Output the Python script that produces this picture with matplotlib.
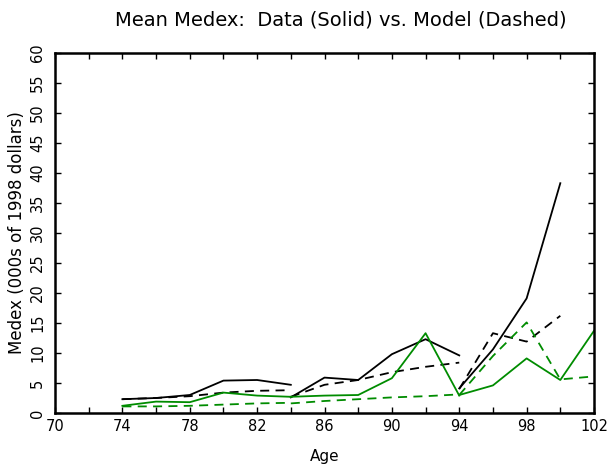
import numpy as np
import matplotlib
matplotlib.use("Agg")
import matplotlib.pyplot as plt
from matplotlib.ticker import MultipleLocator

# ages for the three cohorts (each followed over 2-year waves)
ages_c1 = [74, 76, 78, 80, 82, 84]
ages_c2 = [84, 86, 88, 90, 92, 94]
ages_c3_black = [94, 96, 98, 100]
ages_c3_green = [94, 96, 98, 100, 102]

# mean medex, 000s of 1998 dollars
black_data_c1 = [2.3, 2.5, 3.0, 5.4, 5.5, 4.7]
black_data_c2 = [2.6, 5.9, 5.5, 9.8, 12.3, 9.6]
black_data_c3 = [4.1, 10.6, 19.1, 38.3]

black_model_c1 = [2.3, 2.5, 2.8, 3.4, 3.7, 3.8]
black_model_c2 = [2.7, 4.7, 5.5, 6.8, 7.7, 8.4]
black_model_c3 = [4.0, 13.3, 11.9, 16.2]

green_data_c1 = [1.2, 1.9, 1.8, 3.4, 2.9, 2.7]
green_data_c2 = [2.7, 2.9, 3.0, 5.8, 13.3, 2.9]
green_data_c3 = [3.0, 4.6, 9.1, 5.5, 13.7]

green_model_c1 = [1.1, 1.1, 1.2, 1.4, 1.6, 1.7]
green_model_c2 = [1.6, 2.0, 2.3, 2.6, 2.8, 3.1]
green_model_c3 = [3.0, 9.5, 15.1, 5.6, 6.1]

age_ticks = list(range(70, 103, 4))

plt.rcParams['font.family'] = ['DejaVu Sans']

fig = plt.figure(figsize=(6.09, 4.66), dpi=100)
ax = fig.add_axes([55/609, 1 - 413/466, 539/609, 360/466])

dash = (0, (5, 3.5))
lw = 1.3
GREEN = "#008c00"

for x, y in [(ages_c1, black_data_c1), (ages_c2, black_data_c2), (ages_c3_black, black_data_c3)]:
    ax.plot(x, y, color="black", lw=lw)
for x, y in [(ages_c1, black_model_c1), (ages_c2, black_model_c2), (ages_c3_black, black_model_c3)]:
    ax.plot(x, y, color="black", lw=lw, linestyle=dash)
for x, y in [(ages_c1, green_data_c1), (ages_c2, green_data_c2), (ages_c3_green, green_data_c3)]:
    ax.plot(x, y, color=GREEN, lw=lw)
for x, y in [(ages_c1, green_model_c1), (ages_c2, green_model_c2), (ages_c3_green, green_model_c3)]:
    ax.plot(x, y, color=GREEN, lw=lw, linestyle=dash)

ax.set_xlim(70, 102)
ax.set_ylim(0, 60)
ax.set_xticks(age_ticks)
ax.xaxis.set_minor_locator(MultipleLocator(2))
ax.yaxis.set_major_locator(MultipleLocator(5))

ax.tick_params(which="both", direction="in", top=True, right=True,
               length=4, width=1, labelsize=10.5)
ax.tick_params(axis="x", pad=4)
ax.tick_params(axis="y", pad=7)
for lab in ax.get_yticklabels():
    lab.set_rotation(90)
    lab.set_va("center")

for s in ax.spines.values():
    s.set_linewidth(1.8)

ax.set_xlabel("Age", fontsize=11, labelpad=11)
ax.set_ylabel("Medex (000s of 1998 dollars)", fontsize=12, labelpad=3)
fig.suptitle("Mean Medex:  Data (Solid) vs. Model (Dashed)", fontsize=14, y=1 - 20/466, va="center", x=0.56)

fig.savefig("out.png", dpi=100)
